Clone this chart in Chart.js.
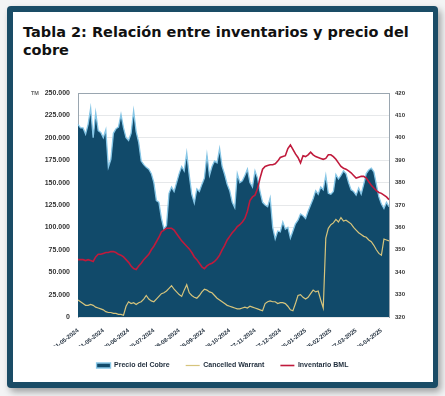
<!DOCTYPE html>
<html>
<head>
<meta charset="utf-8">
<script src="https://cdn.jsdelivr.net/npm/chart.js@4.4.1/dist/chart.umd.min.js"></script>
<style>
  body { margin: 0; width: 445px; height: 396px; background: #f3f4f5; overflow: hidden; position: relative; }
  #frame { position: absolute; left: 7px; top: 6px; width: 431px; height: 382px; background: #1a4c66;
           border-radius: 4px; box-shadow: 3px 4px 7px rgba(0,0,0,0.35); }
  #panel { position: absolute; left: 13px; top: 12px; width: 420px; height: 370px; background: #fff; }
  #title { position: absolute; left: 23px; top: 23px; width: 402px; font: bold 14.5px "DejaVu Sans", Verdana, sans-serif;
           line-height: 18px; color: #111; }
  #profitChart { position: absolute; left: 0; top: 0; }
</style>
</head>
<body>
<div id="frame"></div>
<div id="panel"></div>
<div id="title">Tabla 2: Relación entre inventarios y precio del cobre</div>
<canvas id="profitChart" width="445" height="396"></canvas>
<script>
// tick dates, one every 10 points (points are ~3 days apart)
const tickLabels = ["01-05-2024", "31-05-2024", "30-06-2024", "30-07-2024", "29-08-2024", "28-09-2024",
    "28-10-2024", "27-11-2024", "27-12-2024", "26-01-2025", "25-02-2025", "27-03-2025", "26-04-2025"];

// copper price, right axis
const precioCobre = [406, 404.4, 404.4, 401.6, 406, 413.2, 400, 411.2, 403.2, 402.4,
    400, 403.6, 386.8, 390.4, 402, 404, 404.8, 410.4, 404.4, 400,
    398.8, 402, 412, 402.8, 398, 389.6, 388, 386.8, 386, 384,
    380, 372, 371.2, 364, 359.2, 360.8, 375.2, 378, 376, 380,
    384, 387.2, 385.2, 393.2, 383.2, 374.8, 370.8, 377.2, 376, 379.2,
    382, 392.4, 383.2, 387.2, 389.6, 388.8, 395.2, 387.2, 383.6, 379.2,
    376.4, 371.2, 368.8, 384, 380, 380.8, 383.2, 386, 380, 378,
    385.2, 382, 376, 371.2, 370, 369.2, 373.2, 360, 354.8, 358.4,
    358, 362.4, 359.2, 360, 355.2, 358.4, 361.6, 363.2, 366, 365.2,
    364, 367.2, 370, 372.8, 376.4, 374.8, 378, 376.8, 383.2, 375.2,
    374.8, 376, 383.6, 381.6, 383.2, 385.2, 384, 380, 376.8, 376,
    374.4, 377.6, 374.8, 379.2, 384, 385.6, 386.4, 384.8, 379.2, 373.6,
    370.4, 368.4, 371.2, 369.2];

// cancelled warrants, t
const cancelledWarrant = [19000, 17000, 15000, 13000, 13000, 14000, 13000, 11000, 10000, 9000,
    8000, 6000, 5000, 5000, 4000, 4000, 3000, 3000, 2000, 12000,
    17000, 15000, 16000, 14000, 16000, 17000, 20000, 24000, 20000, 18000,
    17000, 20000, 23000, 26000, 27000, 29000, 32000, 35000, 31000, 28000,
    25000, 23000, 30000, 36000, 27000, 24000, 22000, 21000, 24000, 28000,
    31000, 30000, 28000, 27000, 24000, 21000, 19000, 17000, 15000, 13000,
    12000, 11000, 10000, 9000, 9000, 10000, 11000, 10000, 12000, 11000,
    10000, 9000, 8000, 7000, 15000, 17000, 18000, 17000, 17000, 15000,
    16000, 16000, 15000, 12000, 8000, 7000, 15000, 24000, 25000, 22000,
    20000, 22000, 26000, 30000, 28000, 29000, 19000, 10000, 88000, 99000,
    103000, 105000, 109000, 106000, 111000, 107000, 108000, 106000, 104000, 100000,
    97000, 94000, 92000, 90000, 89000, 86000, 84000, 80000, 75000, 71000,
    69000, 87000, 86000, 85000];

// LME (BML) stocks, t
const inventarioBML = [64000, 64000, 64000, 63000, 64000, 63000, 62000, 67000, 70000, 70000,
    71000, 72000, 72000, 73000, 73000, 72000, 70000, 69000, 67000, 64000,
    61000, 57000, 54000, 53000, 57000, 60000, 64000, 67000, 70000, 75000,
    79000, 84000, 89000, 95000, 97000, 99000, 99000, 99000, 97000, 93000,
    89000, 85000, 82000, 79000, 76000, 72000, 67000, 64000, 60000, 56000,
    54000, 57000, 59000, 60000, 62000, 65000, 69000, 75000, 80000, 86000,
    90000, 94000, 97000, 101000, 103000, 106000, 110000, 118000, 130000, 134000,
    136000, 143000, 155000, 165000, 168000, 169000, 170000, 170000, 171000, 174000,
    178000, 179000, 180000, 188000, 192000, 187000, 182000, 178000, 172000, 180000,
    179000, 181000, 184000, 181000, 179000, 178000, 177000, 176000, 177000, 181000,
    181000, 179000, 176000, 172000, 168000, 166000, 165000, 163000, 161000, 158000,
    155000, 156000, 157000, 157000, 155000, 151000, 147000, 144000, 141000, 139000,
    138000, 136000, 134000, 131000];

const labels = precioCobre.map((_, i) => (i % 10 === 0 ? tickLabels[i / 10] : ""));

const tmLabel = {
    id: "tmLabel",
    afterDraw(c) {
        const ctx = c.ctx;
        ctx.save();
        ctx.font = "bold 5.5px 'Liberation Sans', Arial";
        ctx.fillStyle = "#666";
        ctx.textBaseline = "middle";
        ctx.fillText("TM", 31, c.chartArea.top);
        ctx.restore();
    }
};

const tickFont = { family: "'Liberation Sans', Arial", weight: "bold", size: 7 };

new Chart(document.getElementById("profitChart"), {
    type: "line",
    data: {
        labels,
        datasets: [{
            label: "Precio del Cobre",
            data: precioCobre,
            yAxisID: "y2",
            fill: "start",
            backgroundColor: "#114a6a",
            borderColor: "#86c6e6",
            borderWidth: 1.3,
            pointRadius: 0,
            pointStyle: "rect",
            tension: 0,
            order: 3
        }, {
            label: "Cancelled Warrant",
            data: cancelledWarrant,
            yAxisID: "y",
            borderColor: "#d6c47c",
            backgroundColor: "#d6c47c",
            borderWidth: 1.2,
            pointRadius: 0,
            pointStyle: "line",
            tension: 0,
            order: 2
        }, {
            label: "Inventario BML",
            data: inventarioBML,
            yAxisID: "y",
            borderColor: "#c01a3c",
            backgroundColor: "#c01a3c",
            borderWidth: 1.6,
            pointRadius: 0,
            pointStyle: "line",
            tension: 0,
            order: 1
        }]
    },
    options: {
        responsive: false,
        animation: false,
        layout: { padding: { top: 93, left: 0, right: 0, bottom: 17 } },
        plugins: {
            tooltip: { enabled: false },
            legend: {
                position: "bottom",
                labels: {
                    usePointStyle: true,
                    pointStyleWidth: 14,
                    boxHeight: 5,
                    padding: 16,
                    color: "#1d2b3a",
                    font: { family: "'Liberation Sans', Arial", weight: "bold", size: 7 },
                    sort: (a, b) => a.datasetIndex - b.datasetIndex
                }
            }
        },
        scales: {
            x: {
                grid: { display: false },
                border: { display: false },
                afterFit(s) { s.height = 29; },
                ticks: {
                    autoSkip: false,
                    minRotation: 38,
                    maxRotation: 38,
                    padding: 2,
                    color: "#1d2b3a",
                    font: { family: "'Liberation Sans', Arial", weight: "bold", size: 6 }
                }
            },
            y: {
                position: "left",
                min: 0,
                max: 250000,
                afterFit(s) { s.width = 78; },
                grid: {
                    color: (ctx) => (ctx.tick && ctx.tick.value === 250000 ? "#9aa6b0" : "#e6e8ea"),
                    lineWidth: 1,
                    drawTicks: false
                },
                border: { display: true, color: "#9aa6b0" },
                ticks: {
                    stepSize: 25000,
                    padding: 8,
                    color: "#333",
                    font: tickFont,
                    callback: (v) => v.toLocaleString("de-DE")
                }
            },
            y2: {
                position: "right",
                min: 320,
                max: 420,
                afterFit(s) { s.width = 56; },
                grid: { display: false, drawTicks: false },
                border: { display: true, color: "#9aa6b0" },
                ticks: {
                    stepSize: 10,
                    padding: 6,
                    color: "#333",
                    font: { family: "'Liberation Sans', Arial", weight: "bold", size: 6 }
                }
            }
        }
    },
    plugins: [tmLabel]
});
</script>
</body>
</html>
